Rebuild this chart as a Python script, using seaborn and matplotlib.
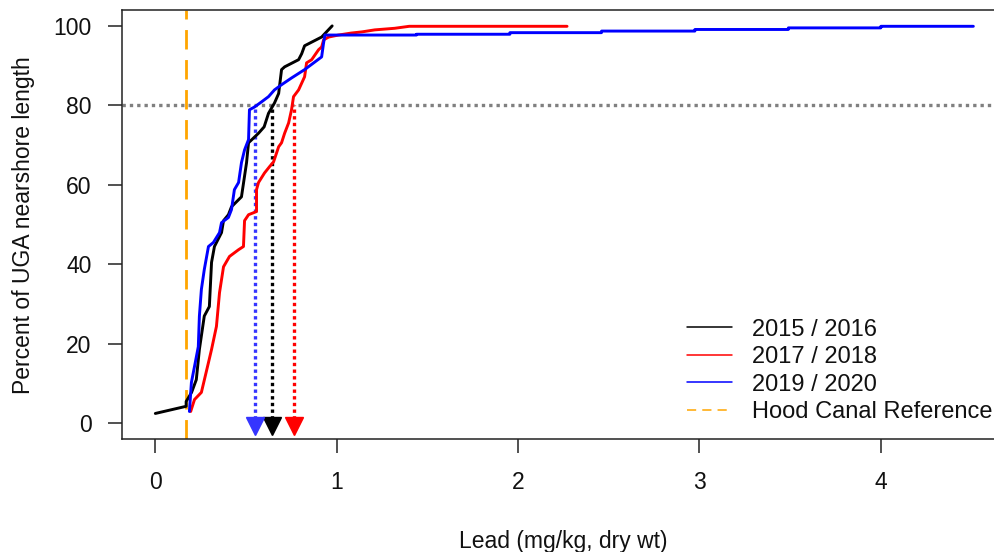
import numpy as np
import pandas as pd
import matplotlib
matplotlib.use("Agg")
import matplotlib.pyplot as plt
import seaborn as sns
from matplotlib.lines import Line2D

# ---- data ----
series_names = ["2015 / 2016", "2017 / 2018", "2019 / 2020"]
series_colors = ["#000000", "#FF0000", "#0000FF"]
arrow_colors = ["#000000", "#FF0000", "#3535FF"]

x_1516 = [0.0, 0.17, 0.17, 0.20, 0.226, 0.243, 0.27, 0.298, 0.31, 0.326, 0.365, 0.376, 0.403,
          0.42, 0.475, 0.503, 0.514, 0.569, 0.60, 0.624, 0.657, 0.68, 0.696, 0.713, 0.79,
          0.807, 0.823, 0.917, 0.975]
y_1516 = [2.5, 4.3, 5.5, 7.8, 11.0, 18.6, 27.0, 29.4, 40.5, 44.5, 48.0, 51.0, 52.5,
          54.5, 57.0, 65.6, 70.6, 73.0, 74.6, 78.0, 80.6, 83.0, 89.0, 89.7, 91.5,
          93.0, 95.0, 97.2, 100.0]

x_1718 = [0.195, 0.216, 0.254, 0.293, 0.31, 0.337, 0.354, 0.376, 0.409, 0.459, 0.486, 0.492,
          0.514, 0.558, 0.558, 0.569, 0.602, 0.63, 0.652, 0.68, 0.696, 0.713, 0.735, 0.751,
          0.762, 0.79, 0.823, 0.834, 0.862, 0.90, 0.917, 0.928, 0.956, 1.01, 1.08, 1.14,
          1.21, 1.32, 1.40, 2.27]
y_1718 = [3.0, 6.0, 7.8, 15.3, 18.6, 24.4, 32.9, 39.4, 42.0, 43.7, 44.5, 51.0,
          52.5, 53.3, 58.8, 60.6, 63.0, 64.6, 65.8, 69.6, 70.6, 73.0, 75.6, 78.9,
          82.2, 83.9, 87.2, 90.7, 91.5, 94.0, 94.7, 96.5, 97.2, 97.7, 98.2, 98.5,
          99.0, 99.4, 99.9, 99.9]

x_1920 = [0.188, 0.199, 0.216, 0.237, 0.243, 0.254, 0.27, 0.293, 0.32, 0.354, 0.365, 0.403,
          0.42, 0.436, 0.459, 0.475, 0.492, 0.514, 0.519, 0.547, 0.586, 0.624, 0.657, 0.696,
          0.751, 0.823, 0.873, 0.917, 0.927, 0.935,
          1.44, 1.44, 1.955, 1.955, 2.46, 2.46, 2.975, 2.975, 3.49, 3.49, 4.0, 4.0, 4.51]
y_1920 = [3.0, 10.3, 14.3, 19.3, 27.0, 33.7, 38.7, 44.5, 45.5, 48.0, 50.5, 51.8,
          53.8, 58.8, 60.6, 65.6, 68.8, 71.4, 78.9, 79.6, 80.9, 82.2, 83.9, 85.2,
          86.9, 89.0, 90.7, 92.2, 95.5, 97.7,
          97.7, 97.9, 97.9, 98.3, 98.3, 98.7, 98.7, 99.1, 99.1, 99.5, 99.5, 99.9, 99.9]

lead_80pct = [0.646, 0.762, 0.552]   # lead value where each curve reaches 80 %
threshold_pct = 80
hood_canal_ref = 0.171
legend_labels = series_names + ["Hood Canal Reference"]

x_ticks = [0, 1, 2, 3, 4]
y_ticks = [0, 20, 40, 60, 80, 100]

# ---- build the long table ----
frames = []
for name, xs, ys in zip(series_names, [x_1516, x_1718, x_1920], [y_1516, y_1718, y_1920]):
    frames.append(pd.DataFrame({"lead": xs, "pct": ys, "period": name}))
df = pd.concat(frames, ignore_index=True)

sns.set_theme(style="white")
plt.rcParams["font.family"] = ["Liberation Sans", "DejaVu Sans"]
FS = 16.5
FS_LEG = 17.0

W, H = 995, 552
fig = plt.figure(figsize=(W / 100, H / 100), dpi=100)
ax_left, ax_right, ax_top, ax_bottom = 122.3, 1006.0, 10.0, 439.3
ax_w, ax_h = ax_right - ax_left, ax_bottom - ax_top
ax = fig.add_axes([ax_left / W, 1 - ax_bottom / H, ax_w / W, ax_h / H])

# reference lines
ax.axhline(threshold_pct, color="#808080", lw=2.4, linestyle=(0, (1.0, 1.2)), zorder=1)
ax.axvline(hood_canal_ref, color="#FFA500", lw=2.0, linestyle=(0, (7, 3.8)), zorder=1)

sns.lineplot(data=df, x="lead", y="pct", hue="period", palette=series_colors,
             hue_order=series_names, sort=False, estimator=None, units="period",
             lw=2.1, ax=ax, legend=False, zorder=3)

# arrows down from 80 %
for xv, col in zip(lead_80pct, arrow_colors):
    ax.vlines(xv, 1.0, threshold_pct, colors=col, lw=2.4, linestyle=(0, (1.0, 1.0)), zorder=2)
    ax.plot([xv], [-0.6], marker="v", ms=12.5, color=col, mec=col, zorder=4)

ax.set_xlim(-0.182, 4.69)
ax.set_ylim(-4, 104)
ax.set_xticks(x_ticks)
ax.set_xticklabels([str(t) for t in x_ticks])
ax.set_yticks(y_ticks)
ax.set_yticklabels([str(t) for t in y_ticks])
ax.tick_params(axis="both", which="major", direction="out", length=10, width=1.1,
               color="#222222", labelsize=FS, labelcolor="#111111", pad=12,
               bottom=True, left=True)
ax.tick_params(axis="x", pad=13)
for sp in ax.spines.values():
    sp.set_visible(True)
    sp.set_color("#222222")
    sp.set_linewidth(1.1)
ax.grid(False)

ax.set_xlabel("Lead (mg/kg, dry wt)", fontsize=FS, color="#111111")
ax.set_ylabel("Percent of UGA nearshore length", fontsize=FS, color="#111111")
ax.xaxis.set_label_coords(0.499, -(530 - ax_bottom) / ax_h, transform=ax.transAxes)
ax.xaxis.label.set_va("top")
ax.yaxis.set_label_coords(-(ax_left - 35) / ax_w, 0.5, transform=ax.transAxes)

handles = [Line2D([], [], color=c, lw=1.1) for c in series_colors]
handles.append(Line2D([], [], color="#FFA500", lw=1.1, linestyle=(0, (6, 4))))
leg = fig.legend(handles, legend_labels, loc="upper left",
                 bbox_to_anchor=(687 / W, 1 - 318.5 / H), bbox_transform=fig.transFigure,
                 frameon=False, fontsize=FS_LEG, handlelength=45 / 23.6, handletextpad=20 / 23.6,
                 labelspacing=0.235, borderpad=0, borderaxespad=0)
for t in leg.get_texts():
    t.set_color("#111111")

fig.savefig("out.png", dpi=100)
